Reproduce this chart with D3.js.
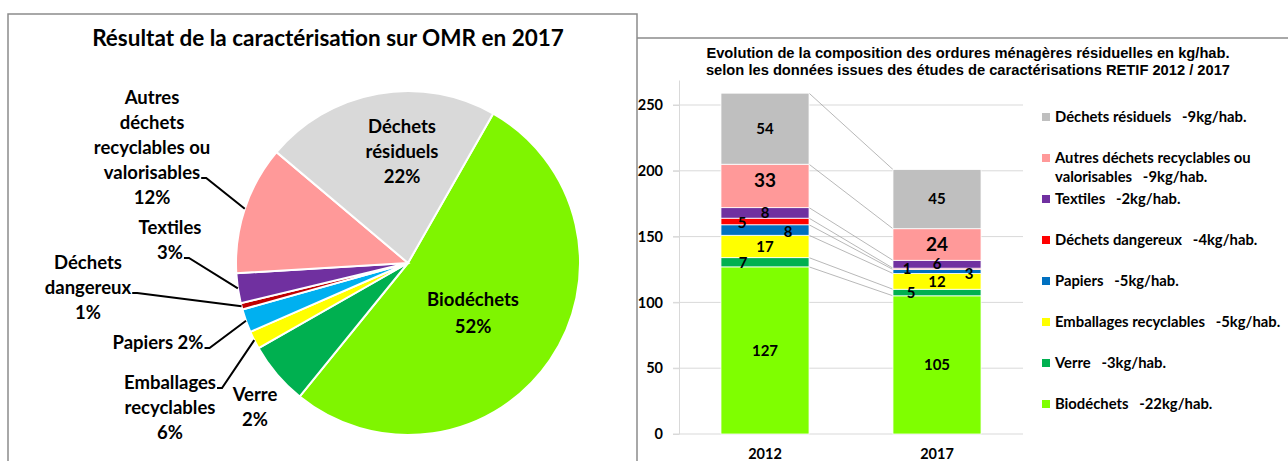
<!DOCTYPE html>
<html>
<head>
<meta charset="utf-8">
<script src="https://cdn.jsdelivr.net/npm/d3@7"></script>
<style>
  body { margin: 0; background: #fff; }
  text { font-family: Lato, "Open Sans", sans-serif; font-weight: bold; fill: #000; }
  .arial { font-family: "Liberation Sans", Arial, sans-serif; }
</style>
</head>
<body>
<svg id="chart" width="1288" height="461"></svg>
<script>
// Pie (2017 shares, %)
const pieNames = ["Biodéchets", "Verre", "Emballages recyclables", "Papiers", "Déchets dangereux", "Textiles", "Autres déchets recyclables ou valorisables", "Déchets résiduels"];
const pieValues = [52.6, 5.9, 1.7, 2.2, 0.6, 2.8, 12.1, 22.1];
const pieColors = ["#7ff500", "#00b050", "#ffff00", "#00b0f0", "#c00000", "#7030a0", "#ff9999", "#d9d9d9"];
const pieLabelText = [
  ["Biodéchets", "52%"],
  ["Verre", "2%"],
  ["Emballages", "recyclables", "6%"],
  ["Papiers 2%"],
  ["Déchets", "dangereux", "1%"],
  ["Textiles", "3%"],
  ["Autres", "déchets", "recyclables ou", "valorisables", "12%"],
  ["Déchets", "résiduels", "22%"]
];

// Stacked bars (kg/hab.)
const years = ["2012", "2017"];
const seriesNames = ["Biodéchets", "Verre", "Emballages recyclables", "Papiers", "Déchets dangereux", "Textiles", "Autres déchets recyclables ou valorisables", "Déchets résiduels"];
const values2012 = [127, 7, 17, 8, 5, 8, 33, 54];
const values2017 = [105, 5, 12, 3, 1, 6, 24, 45];
const legendDeltas = ["-22kg/hab.", "-3kg/hab.", "-5kg/hab.", "-5kg/hab.", "-4kg/hab.", "-2kg/hab.", "-9kg/hab.", "-9kg/hab."];
const barColors = ["#7fff00", "#00b050", "#ffff00", "#0070c0", "#ff0000", "#7030a0", "#ff9999", "#bfbfbf"];
const yTicks = [0, 50, 100, 150, 200, 250];

const svg = d3.select("#chart");

// ---------- frames ----------
svg.append("path")
  .attr("d", "M8,461 L8,14 L637,14 L637,461 M637,38 L1288,38")
  .attr("fill", "none")
  .attr("stroke", "#8c8c8c")
  .attr("stroke-width", 1.5);

// ---------- pie ----------
svg.append("text")
  .attr("x", 328).attr("y", 38).attr("dy", "0.35em")
  .attr("text-anchor", "middle")
  .style("font-size", "22.5px")
  .text("Résultat de la caractérisation sur OMR en 2017");

const cx = 408, cy = 263, radius = 172;
const start = 29.7 * Math.PI / 180;
const pie = d3.pie().sort(null).startAngle(start).endAngle(start + 2 * Math.PI);
const arcs = pie(pieValues);
const arc = d3.arc().innerRadius(0).outerRadius(radius);

const pieG = svg.append("g").attr("transform", `translate(${cx},${cy})`);
pieG.selectAll("path")
  .data(arcs)
  .enter()
  .append("path")
  .attr("d", arc)
  .attr("fill", (d, i) => pieColors[i])
  .attr("stroke", "#fff")
  .attr("stroke-width", 2);

// label placement (Excel manual layout)
const pieLabelPos = [
  { x: 473, y: 300, gap: 27 },
  { x: 255, y: 395, gap: 25 },
  { x: 170, y: 383, gap: 25, leader: 0 },
  { x: 158, y: 343, gap: 25, leader: 0 },
  { x: 88, y: 263, gap: 25, leader: 1 },
  { x: 170, y: 228, gap: 25, leader: 1 },
  { x: 152, y: 98, gap: 25, leader: 3 },
  { x: 402, y: 127, gap: 25 }
];

pieLabelText.forEach((lines, i) => {
  const p = pieLabelPos[i];
  const g = svg.append("g");
  const nodes = lines.map((t, j) =>
    g.append("text")
      .attr("x", p.x)
      .attr("y", p.y + j * p.gap)
      .attr("dy", "0.35em")
      .attr("text-anchor", "middle")
      .style("font-size", "18.5px")
      .text(t)
  );
  if (p.leader !== undefined) {
    const t = nodes[p.leader];
    const w = t.node().getComputedTextLength();
    const x0 = p.x + w / 2 + 1;
    const ly = p.y + p.leader * p.gap + 5;
    const mid = (arcs[i].startAngle + arcs[i].endAngle) / 2;
    const ex = cx + radius * Math.sin(mid);
    const ey = cy - radius * Math.cos(mid);
    svg.append("polyline")
      .attr("points", `${x0},${ly} ${x0 + 5},${ly} ${ex},${ey}`)
      .attr("fill", "none")
      .attr("stroke", "#000")
      .attr("stroke-width", 2);
  }
});

// ---------- stacked bars ----------
const title = svg.append("text")
  .attr("class", "arial")
  .attr("text-anchor", "middle")
  .style("font-size", "14.7px");
title.append("tspan").attr("x", 968).attr("y", 58)
  .text("Evolution de la composition des ordures ménagères résiduelles en kg/hab.");
title.append("tspan").attr("x", 968).attr("y", 75)
  .text("selon les données issues des études de caractérisations RETIF 2012 / 2017");

const table = years.map((yr, k) => {
  const row = { year: yr };
  const vals = k === 0 ? values2012 : values2017;
  seriesNames.forEach((s, i) => { row[s] = vals[i]; });
  return row;
});
const stacked = d3.stack().keys(seriesNames)(table);

const x = d3.scaleBand()
  .domain(years)
  .range([679, 1023])
  .paddingInner(0.488)
  .paddingOuter(0.244);

const y = d3.scaleLinear()
  .domain([0, 269])
  .range([434, 80]);

// gridlines
svg.append("g")
  .selectAll("line")
  .data(yTicks.filter(d => d > 0))
  .enter()
  .append("line")
  .attr("x1", 673).attr("x2", 1023)
  .attr("y1", d => y(d)).attr("y2", d => y(d))
  .attr("stroke", "#d9d9d9");

// y axis
const yAxis = svg.append("g")
  .attr("transform", "translate(679,0)")
  .call(d3.axisLeft(y).tickValues(yTicks).tickSize(6).tickPadding(10).tickSizeOuter(0));
yAxis.select(".domain").attr("stroke", "#d9d9d9");
yAxis.selectAll(".tick line").attr("stroke", "#d9d9d9");
yAxis.selectAll("text")
  .style("font-family", "Lato, sans-serif")
  .style("font-weight", "bold")
  .style("font-size", "14.5px");

// baseline
svg.append("line")
  .attr("x1", 673).attr("x2", 1023)
  .attr("y1", y(0)).attr("y2", y(0))
  .attr("stroke", "#d9d9d9");

// series lines
stacked.forEach(s => {
  svg.append("line")
    .attr("x1", x(years[0]) + x.bandwidth())
    .attr("y1", y(s[0][1]))
    .attr("x2", x(years[1]))
    .attr("y2", y(s[1][1]))
    .attr("stroke", "#a6a6a6")
    .attr("stroke-width", 0.8);
});

// bars
svg.append("g")
  .selectAll("g")
  .data(stacked)
  .enter()
  .append("g")
  .attr("fill", (d, i) => barColors[i])
  .selectAll("rect")
  .data(d => d)
  .enter()
  .append("rect")
  .attr("x", d => x(d.data.year))
  .attr("y", d => y(d[1]))
  .attr("width", x.bandwidth())
  .attr("height", d => y(d[0]) - y(d[1]))
  .attr("stroke", "#fff")
  .attr("stroke-width", 0.8);

// value labels (small segments nudged as in the original)
const nudge = {
  "2012-1": [-22, 0], "2012-3": [23, 2], "2012-4": [-23, 1], "2012-6": [0, -6],
  "2017-1": [-26, 0], "2017-3": [32, 2], "2017-4": [-30, 0]
};
stacked.forEach((s, i) => {
  s.forEach(d => {
    const key = d.data.year + "-" + i;
    const n = nudge[key] || [0, 0];
    svg.append("text")
      .attr("x", x(d.data.year) + x.bandwidth() / 2 + n[0])
      .attr("y", y((d[0] + d[1]) / 2) + n[1])
      .attr("dy", "0.35em")
      .attr("text-anchor", "middle")
      .style("font-size", i === 6 ? "19px" : "15px")
      .text(d[1] - d[0]);
  });
});

// x labels
svg.selectAll(".xlab")
  .data(years)
  .enter()
  .append("text")
  .attr("x", d => x(d) + x.bandwidth() / 2)
  .attr("y", 454)
  .attr("dy", "0.35em")
  .attr("text-anchor", "middle")
  .style("font-size", "14.5px")
  .text(d => d);

// legend (reverse order)
const legendOrder = d3.range(seriesNames.length).reverse();
legendOrder.forEach((i, k) => {
  const ly = 117 + k * 41;
  svg.append("rect")
    .attr("x", 1042).attr("y", ly - 4)
    .attr("width", 8).attr("height", 8)
    .attr("fill", barColors[i]);
  const name = seriesNames[i];
  let lines;
  if (name.length > 30) {
    const cut = name.lastIndexOf(" ou") + 3;
    lines = [name.slice(0, cut), name.slice(cut + 1) + "   " + legendDeltas[i]];
  } else {
    lines = [name + "   " + legendDeltas[i]];
  }
  lines.forEach((t, j) => {
    svg.append("text")
      .attr("x", 1055)
      .attr("y", ly + j * 19)
      .attr("dy", "0.35em")
      .style("font-size", "14.8px")
      .style("white-space", "pre")
      .text(t);
  });
});
</script>
</body>
</html>
